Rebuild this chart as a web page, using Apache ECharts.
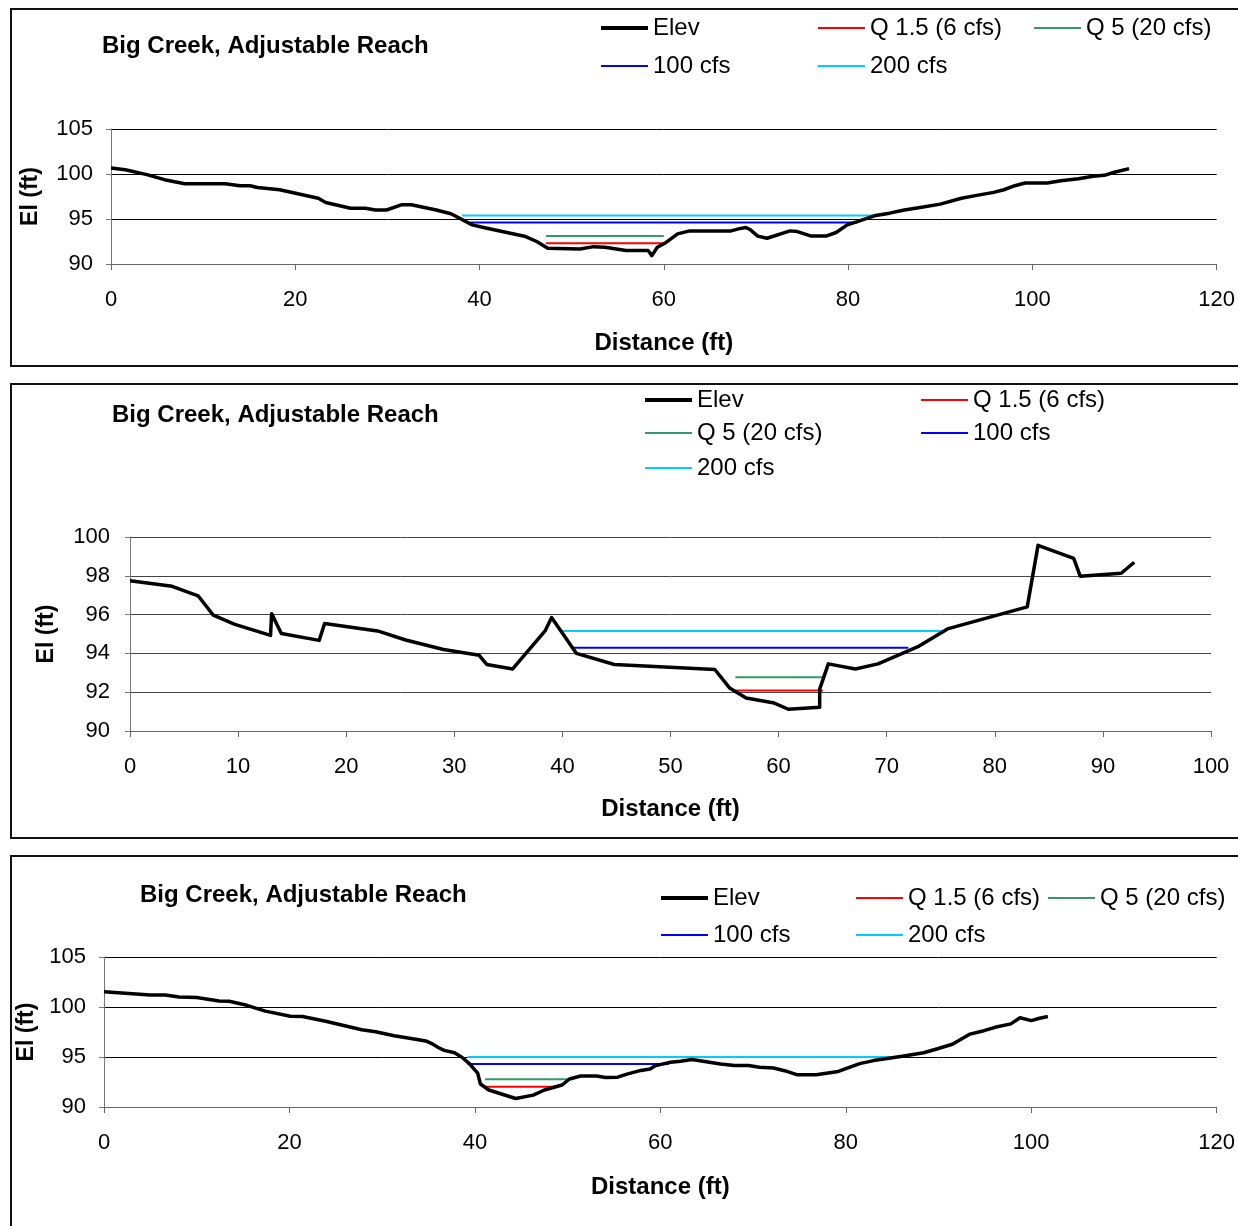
<!DOCTYPE html>
<html>
<head>
<meta charset="utf-8">
<script src="https://cdn.jsdelivr.net/npm/echarts@6/dist/echarts.min.js"></script>
<style>
  body { margin: 0; background: #fff; width: 1238px; height: 1226px; overflow: hidden; position: relative; }
  .frame { position: absolute; left: 10px; width: 1300px; border: 2px solid #111; box-sizing: border-box; }
  .chart { position: absolute; left: 0; width: 1238px; }
</style>
</head>
<body>
<div class="frame" style="top:8px;height:359px"></div>
<div class="frame" style="top:383px;height:456px"></div>
<div class="frame" style="top:855px;height:420px"></div>
<div id="c1" class="chart" style="top:0;height:375px"></div>
<div id="c2" class="chart" style="top:375px;height:470px"></div>
<div id="c3" class="chart" style="top:845px;height:381px"></div>
<script>
var FONT = "'Liberation Sans', Arial, sans-serif";
var titleText = 'Big Creek, Adjustable Reach';
var flowNames = ['Q 1.5 (6 cfs)', 'Q 5 (20 cfs)', '100 cfs', '200 cfs'];
var flowColors = ['#ff0000', '#339966', '#0000ff', '#00ccff'];

/*************** section 1 **************/
var p1Elev = [[0,100.67],[1.55,100.48],[3.9,99.93],[5.8,99.37],[8.0,98.92],[12.4,98.92],[14.0,98.7],[15.1,98.7],[15.9,98.5],[18.3,98.25],
  [22.5,97.3],[23.3,96.84],[26.0,96.2],[27.6,96.2],[28.7,96.0],[29.9,96.0],[31.5,96.58],[32.6,96.58],[35.3,96.0],[36.9,95.58],
  [39.2,94.35],[40.8,93.98],[45.0,93.05],[46.2,92.5],[47.4,91.75],[50.9,91.67],[52.4,91.93],[53.6,91.86],[55.9,91.49],[58.3,91.49],
  [58.7,90.93],[59.3,91.86],[60.1,92.3],[61.5,93.35],[62.8,93.68],[67.3,93.68],[68.1,93.9],[68.9,94.05],[69.4,93.8],[70.2,93.1],
  [71.2,92.86],[73.7,93.68],[74.5,93.6],[76.0,93.1],[77.6,93.1],[78.7,93.5],[79.9,94.35],[81.0,94.7],[83.0,95.4],[84.5,95.65],
  [86.1,96.0],[88.0,96.3],[90.0,96.65],[92.3,97.3],[93.8,97.6],[95.8,97.96],[96.9,98.25],[98.1,98.7],[99.2,99.0],[101.6,99.0],
  [103.1,99.26],[105.0,99.48],[106.6,99.74],[107.8,99.85],[108.9,100.19],[110.5,100.6]];
var p1Level = [92.3, 93.12, 94.6, 95.39];
var p1From = [47.2, 47.2, 39.0, 38.1];
var p1To = [59.9, 60.0, 81.0, 83.0];

/*************** section 2 **************/
var p2Elev = [[0,97.75],[3.9,97.46],[6.3,96.97],[7.7,95.97],[9.7,95.5],[13.0,94.93],[13.1,96.05],[14.0,95.03],[17.5,94.67],[18.0,95.54],
  [22.9,95.16],[25.5,94.69],[29.0,94.2],[32.3,93.9],[33.0,93.43],[35.4,93.2],[38.4,95.16],[39.0,95.85],[41.3,94.0],[44.8,93.43],
  [54.1,93.17],[55.5,92.2],[57.0,91.7],[59.6,91.44],[60.9,91.12],[63.8,91.23],[63.8,92.16],[64.6,93.46],[67.1,93.2],[69.2,93.46],
  [73.0,94.38],[75.7,95.28],[83.0,96.4],[84.0,99.57],[87.3,98.9],[87.9,97.98],[91.7,98.13],[92.9,98.7]];
var p2Level = [92.09, 92.77, 94.29, 95.16];
var p2From = [56.0, 56.0, 40.9, 39.9];
var p2To = [64.1, 64.1, 72.0, 75.2];

/*************** section 3 **************/
var p3Elev = [[0,101.53],[5.0,101.19],[6.6,101.19],[8.1,101.0],[10.0,100.95],[12.4,100.6],[13.5,100.58],[15.4,100.17],[17.4,99.59],[20.1,99.08],
  [21.4,99.05],[23.9,98.58],[27.8,97.73],[29.3,97.53],[31.3,97.12],[33.6,96.78],[34.7,96.61],[35.3,96.37],[36.1,95.93],[36.7,95.66],
  [37.8,95.42],[38.6,94.98],[39.4,94.34],[40.3,93.39],[40.6,92.3],[41.5,91.7],[44.4,90.85],[46.3,91.19],[47.5,91.7],[49.4,92.2],
  [50.2,92.8],[51.4,93.1],[53.1,93.1],[54.1,92.95],[55.4,92.98],[56.4,93.29],[57.9,93.66],[58.9,93.8],[59.5,94.14],[61.1,94.47],
  [62.2,94.58],[63.4,94.75],[66.5,94.3],[68.0,94.14],[69.5,94.14],[70.7,93.97],[72.2,93.9],[73.4,93.63],[74.8,93.22],[76.8,93.22],
  [79.2,93.56],[81.5,94.34],[83.0,94.64],[86.1,95.08],[88.4,95.42],[89.9,95.83],[91.5,96.27],[93.4,97.29],[94.9,97.63],[96.1,97.97],
  [97.8,98.31],[98.8,98.92],[100.0,98.64],[100.9,98.88],[101.8,99.05]];
var p3Level = [92.03, 92.78, 94.3, 95.0];
var p3From = [41.1, 41.1, 39.2, 39.2];
var p3To = [49.0, 50.2, 60.9, 86.0];

var p1Axis = { xmax: 120, xstep: 20, ymin: 90, ymax: 105, ystep: 5 };
var p2Axis = { xmax: 100, xstep: 10, ymin: 90, ymax: 100, ystep: 2 };
var p3Axis = { xmax: 120, xstep: 20, ymin: 90, ymax: 105, ystep: 5 };

function makeChart(id, elev, level, from, to, ax, lay) {
  var chart = echarts.init(document.getElementById(id));
  var series = [];
  for (var i = 0; i < flowNames.length; i++) {
    series.push({
      name: flowNames[i], type: 'line', symbol: 'none', z: 2,
      data: [[from[i], level[i]], [to[i], level[i]]],
      lineStyle: { color: flowColors[i], width: 2 },
      itemStyle: { color: flowColors[i] }
    });
  }
  series.push({
    name: 'Elev', type: 'line', symbol: 'none', z: 3, data: elev,
    lineStyle: { color: '#000', width: 3.5, join: 'round' },
    itemStyle: { color: '#000' }
  });
  // one legend per item so the columns line up like the original
  var legends = [];
  var names = ['Elev'].concat(flowNames);
  for (var k = 0; k < names.length; k++) {
    legends.push({
      data: [names[k]], left: lay.legend[k][0], top: lay.legend[k][1],
      padding: 0, icon: 'rect', itemWidth: 47, itemHeight: k === 0 ? 4 : 2, selectedMode: false,
      textStyle: { fontFamily: FONT, fontSize: 24, color: '#000' }
    });
  }
  chart.setOption({
    animation: false,
    title: {
      text: titleText, left: lay.title[0], top: lay.title[1], padding: 0,
      textStyle: { fontFamily: FONT, fontSize: 24, fontWeight: 'bold', color: '#000' }
    },
    legend: legends,
    grid: { left: lay.grid[0], top: lay.grid[1], width: lay.grid[2], height: lay.grid[3] },
    xAxis: {
      type: 'value', min: 0, max: ax.xmax, interval: ax.xstep,
      name: 'Distance (ft)', nameLocation: 'middle', nameGap: lay.xGap,
      nameTextStyle: { fontFamily: FONT, fontSize: 24, fontWeight: 'bold', color: '#000' },
      axisLine: { lineStyle: { color: '#666', width: 1 } },
      axisTick: { show: true, length: 6, lineStyle: { color: '#666' } },
      axisLabel: { margin: lay.xMargin, fontFamily: FONT, fontSize: 22, color: '#000' },
      splitLine: { show: false }
    },
    yAxis: {
      type: 'value', min: ax.ymin, max: ax.ymax, interval: ax.ystep,
      name: 'El (ft)', nameLocation: 'middle', nameGap: lay.yGap,
      nameTextStyle: { fontFamily: FONT, fontSize: 23, fontWeight: 'bold', color: '#000' },
      axisLine: { show: true, lineStyle: { color: '#777', width: 1 } },
      axisTick: { show: true, length: 5, lineStyle: { color: '#777' } },
      axisLabel: { margin: lay.yMargin, fontFamily: FONT, fontSize: 22, color: '#000' },
      splitLine: { show: true, lineStyle: { color: lay.gridColor, width: 1 } }
    },
    series: series
  });
  return chart;
}

makeChart('c1', p1Elev, p1Level, p1From, p1To, p1Axis, {
  title: [102, 34], grid: [111, 129, 1106, 135],
  legend: [[601, 16], [818, 16], [1034, 16], [601, 54], [818, 54]],
  xGap: 67, yGap: 69, xMargin: 25, yMargin: 18, gridColor: '#000'
});
makeChart('c2', p2Elev, p2Level, p2From, p2To, p2Axis, {
  title: [112, 28], grid: [130, 162, 1081, 194],
  legend: [[645, 13], [921, 13], [645, 46], [921, 46], [645, 81]],
  xGap: 66, yGap: 72, xMargin: 25, yMargin: 20, gridColor: '#444'
});
makeChart('c3', p3Elev, p3Level, p3From, p3To, p3Axis, {
  title: [140, 38], grid: [104, 112, 1113, 150],
  legend: [[661, 41], [856, 41], [1048, 41], [661, 78], [856, 78]],
  xGap: 68, yGap: 62, xMargin: 25, yMargin: 18, gridColor: '#000'
});
</script>
</body>
</html>
